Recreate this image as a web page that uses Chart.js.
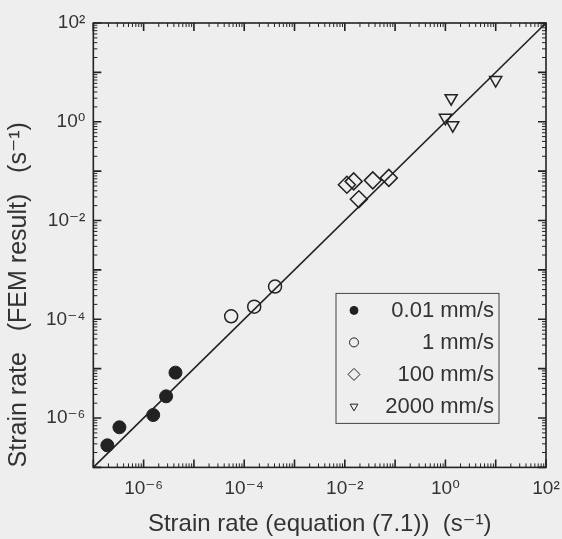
<!DOCTYPE html>
<html>
<head>
<meta charset="utf-8">
<script src="https://cdn.jsdelivr.net/npm/chart.js"></script>
<style>
  html, body { margin: 0; padding: 0; background: #eeeeee; }
  #wrap { width: 562px; height: 539px; }
</style>
</head>
<body>
<div id="wrap"><canvas id="rateChart" width="562" height="539"></canvas></div>
<script>
// strain rate: equation (7.1) on x, FEM result on y
const slowX = [1.9e-7, 3.3e-7, 1.55e-6, 2.8e-6, 4.3e-6];
const slowY = [2.8e-7, 6.5e-7, 1.15e-6, 2.75e-6, 8.3e-6];
const midX = [5.5e-5, 1.58e-4, 4.1e-4];
const midY = [1.15e-4, 1.8e-4, 4.6e-4];
const fastX = [0.011, 0.015, 0.036, 0.075, 0.019];
const fastY = [0.053, 0.062, 0.065, 0.073, 0.027];
const impactX = [1.3, 1.0, 1.4, 10];
const impactY = [3.0, 1.2, 0.85, 7.0];
const seriesLabels = ['0.01 mm/s', '1 mm/s', '100 mm/s', '2000 mm/s'];
const tickValues = [1e-6, 1e-4, 1e-2, 1, 100];
const axisMin = 1e-7, axisMax = 100;

const ink = '#222';
const textColor = '#333';
const fontFamily = '"Liberation Sans", Arial, "DejaVu Sans", sans-serif';

const sup = { '-': '\u207B', '0': '\u2070', '1': '\u00B9', '2': '\u00B2', '3': '\u00B3',
  '4': '\u2074', '5': '\u2075', '6': '\u2076', '7': '\u2077', '8': '\u2078', '9': '\u2079' };
function powerLabel(v) {
  const e = String(Math.round(Math.log10(v)));
  return '10' + e.split('').map(c => sup[c]).join('');
}

const pts = (xs, ys) => xs.map((x, i) => ({ x: x, y: ys[i] }));

const frame = {
  id: 'frame',
  beforeDatasetsDraw(chart) {
    const { ctx, chartArea: a, scales: { x, y } } = chart;
    ctx.save();
    ctx.strokeStyle = ink;
    for (let e = -7; e <= 2; e++) {
      for (let m = 1; m <= 9; m++) {
        const v = m * Math.pow(10, e);
        if (v > axisMax * 1.0001) break;
        const len = m === 1 ? 8 : 4;
        ctx.lineWidth = m === 1 ? 1.6 : 1;
        const px = x.getPixelForValue(v), py = y.getPixelForValue(v);
        ctx.beginPath();
        ctx.moveTo(px, a.bottom); ctx.lineTo(px, a.bottom - len);
        ctx.moveTo(px, a.top); ctx.lineTo(px, a.top + len);
        ctx.moveTo(a.left, py); ctx.lineTo(a.left + len, py);
        ctx.moveTo(a.right, py); ctx.lineTo(a.right - len, py);
        ctx.stroke();
      }
    }
    ctx.lineWidth = 1.6;
    ctx.strokeRect(a.left, a.top, a.right - a.left, a.bottom - a.top);
    ctx.restore();
  },
  afterDraw(chart) {
    // legend box, lower right inside the plot
    const { ctx, chartArea: a } = chart;
    const bw = 163, bh = 130;
    const bx = a.right - 47 - bw, by = a.bottom - 44 - bh;
    ctx.save();
    ctx.fillStyle = '#eeeeee';
    ctx.fillRect(bx, by, bw, bh);
    ctx.strokeStyle = '#444';
    ctx.lineWidth = 1;
    ctx.strokeRect(bx, by, bw, bh);
    ctx.font = '22px ' + fontFamily;
    ctx.textAlign = 'right';
    ctx.textBaseline = 'middle';
    for (let i = 0; i < 4; i++) {
      const ds = chart.data.datasets[i];
      const cy = by + 17 + i * 32;
      ctx.fillStyle = ds.backgroundColor;
      ctx.strokeStyle = ds.borderColor;
      Chart.helpers.drawPoint(ctx, {
        pointStyle: ds.pointStyle,
        rotation: ds.rotation || 0,
        radius: ds.legendRadius,
        borderWidth: 1.2
      }, bx + 18, cy);
      ctx.fillStyle = textColor;
      ctx.fillText(ds.label, bx + bw - 5, cy + 1);
    }
    ctx.restore();
  }
};

new Chart(document.getElementById('rateChart'), {
  type: 'scatter',
  data: {
    datasets: [{
      label: seriesLabels[0],
      data: pts(slowX, slowY),
      pointStyle: 'circle',
      radius: 6.5,
      backgroundColor: ink,
      borderColor: ink,
      borderWidth: 1,
      legendRadius: 4
    }, {
      label: seriesLabels[1],
      data: pts(midX, midY),
      pointStyle: 'circle',
      radius: 6.5,
      backgroundColor: 'rgba(0,0,0,0)',
      borderColor: ink,
      borderWidth: 1.5,
      legendRadius: 4.5
    }, {
      label: seriesLabels[2],
      data: pts(fastX, fastY),
      pointStyle: 'rectRot',
      radius: 8.5,
      backgroundColor: 'rgba(0,0,0,0)',
      borderColor: ink,
      borderWidth: 1.5,
      legendRadius: 6
    }, {
      label: seriesLabels[3],
      data: pts(impactX, impactY),
      pointStyle: 'triangle',
      rotation: 180,
      radius: 7,
      backgroundColor: 'rgba(0,0,0,0)',
      borderColor: ink,
      borderWidth: 1.5,
      legendRadius: 4.5
    }, {
      type: 'line',
      label: 'y = x',
      data: [{ x: axisMin, y: axisMin }, { x: axisMax, y: axisMax }],
      borderColor: ink,
      borderWidth: 1.6,
      pointRadius: 0,
      order: 1
    }]
  },
  options: {
    responsive: false,
    animation: false,
    events: [],
    layout: { padding: { left: 4, right: 2, top: 23, bottom: 0 } },
    plugins: { legend: { display: false }, tooltip: { enabled: false } },
    scales: {
      x: {
        type: 'logarithmic',
        min: axisMin, max: axisMax,
        afterBuildTicks: s => { s.ticks = tickValues.map(v => ({ value: v })); },
        afterFit: s => { s.paddingRight = 16; },
        grid: { display: false, drawTicks: false },
        border: { display: false },
        ticks: {
          callback: v => powerLabel(v),
          color: textColor, padding: 10,
          maxRotation: 0, autoSkip: false,
          font: { family: fontFamily, size: 19 }
        },
        title: {
          display: true,
          text: 'Strain rate (equation (7.1))  (s\u207B\u00B9)',
          color: textColor,
          padding: { top: 0, bottom: 0 },
          font: { family: fontFamily, size: 24 }
        }
      },
      y: {
        type: 'logarithmic',
        min: axisMin, max: axisMax,
        afterBuildTicks: s => { s.ticks = tickValues.map(v => ({ value: v })); },
        grid: { display: false, drawTicks: false },
        border: { display: false },
        ticks: {
          callback: v => powerLabel(v),
          color: textColor, padding: 8,
          autoSkip: false,
          font: { family: fontFamily, size: 19 }
        },
        title: {
          display: true,
          align: 'start',
          text: 'Strain rate   (FEM result)   (s\u207B\u00B9)',
          color: textColor,
          padding: { top: 0, bottom: 4 },
          font: { family: fontFamily, size: 25 }
        }
      }
    }
  },
  plugins: [frame]
});
</script>
</body>
</html>
